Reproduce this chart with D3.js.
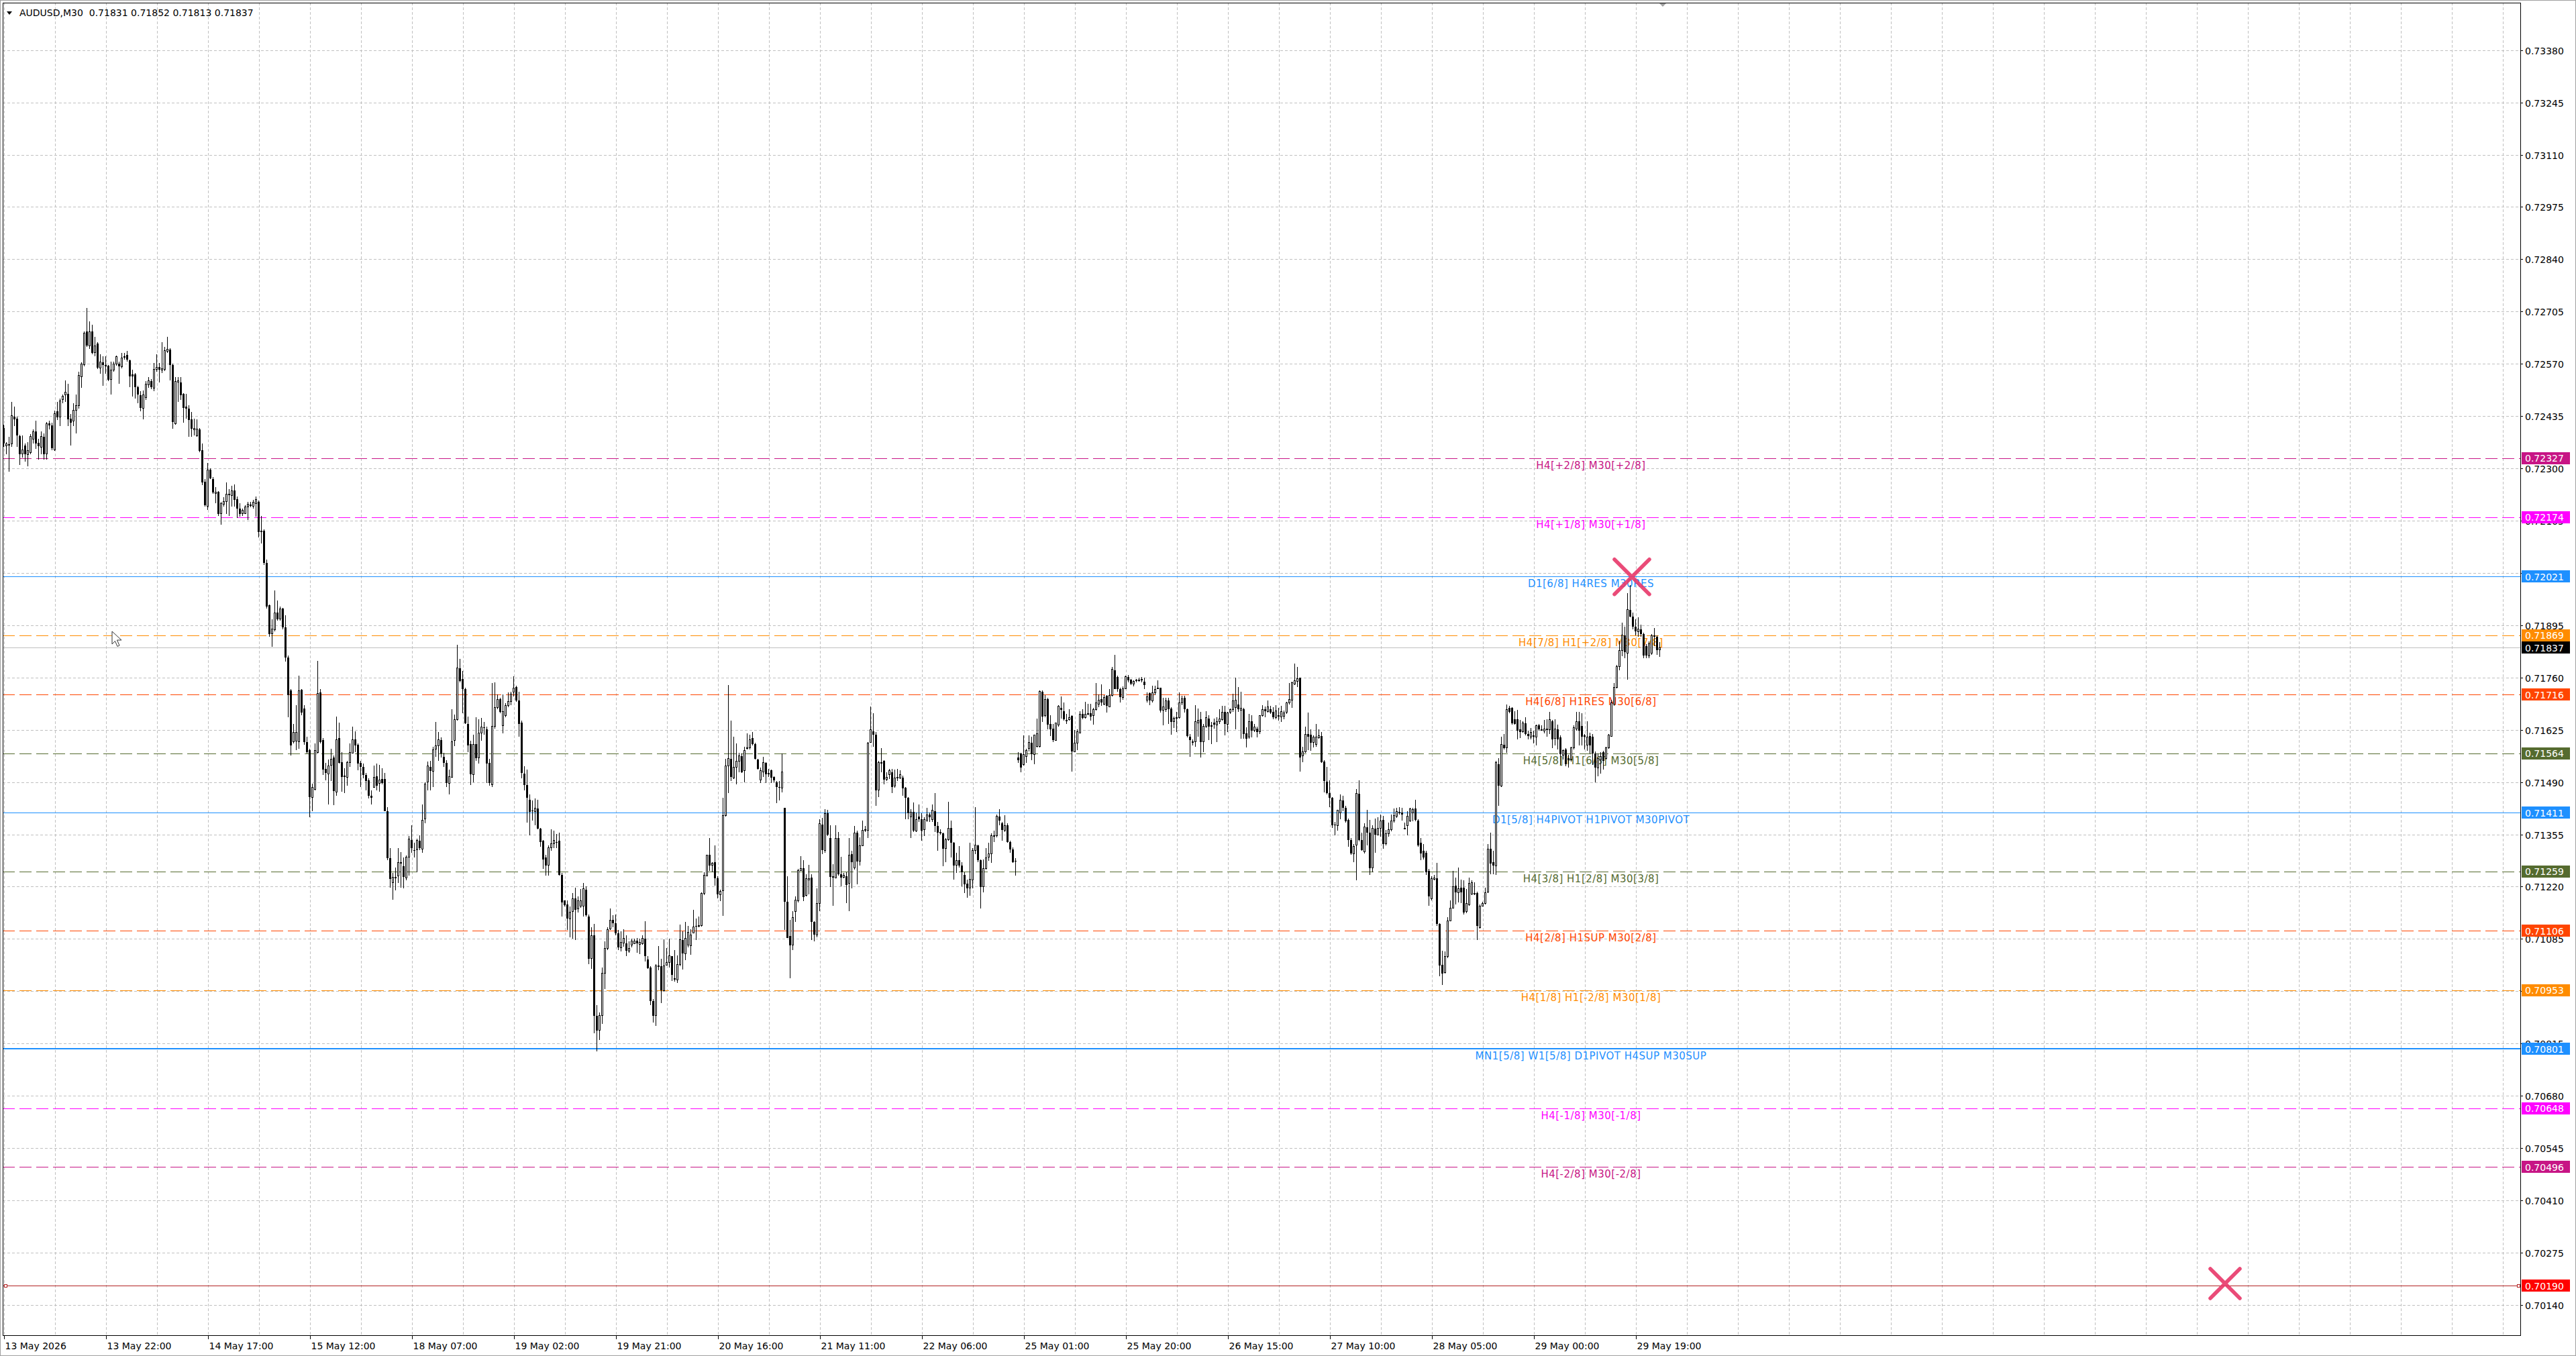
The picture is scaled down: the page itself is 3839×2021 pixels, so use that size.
<!DOCTYPE html>
<html>
<head>
<meta charset="utf-8">
<script src="https://cdn.jsdelivr.net/npm/d3@7"></script>
<style>
  body { margin: 0; background: #fff; overflow: hidden; }
  svg { display: block; }
  text { font-family: "DejaVu Sans", sans-serif; }
</style>
</head>
<body>
<div id="chart"></div>
<script>
// AUDUSD M30 bars, [open, high, low, close] in 1e-5 price units, one array per trading day
var may13 = [
[72404,72413,72355,72364],[72358,72368,72337,72364],[72361,72382,72291,72362],[72364,72472,72355,72436],
[72433,72459,72409,72427],[72429,72433,72355,72385],[72384,72386,72309,72337],[72337,72385,72328,72347],
[72359,72364,72318,72337],[72335,72368,72305,72346],[72341,72389,72337,72382],[72375,72400,72364,72395],
[72395,72423,72350,72364],[72366,72377,72323,72357],[72355,72395,72337,72382],[72382,72391,72323,72337],
[72337,72420,72323,72416],[72416,72423,72400,72411],[72411,72418,72347,72352],[72347,72450,72346,72442],
[72447,72472,72425,72432],[72432,72481,72409,72474],[72477,72490,72468,72486],[72490,72527,72472,72497],
[72492,72518,72409,72427],[72429,72441,72359,72418],[72423,72468,72409,72450],[72450,72490,72391,72463],
[72463,72549,72454,72540],[72537,72574,72508,72570],[72567,72653,72563,72649],[72653,72715,72613,72617],
[72617,72680,72608,72653],[72653,72671,72594,72599],[72599,72640,72590,72617],[72622,72626,72556,72560],
[72560,72594,72545,72574],[72574,72590,72513,72567],[72567,72590,72545,72563],[72565,72567,72525,72529],
[72529,72576,72490,72554],[72554,72576,72549,72570]];
var may14 = [
[72570,72592,72565,72588],[72570,72576,72518,72563],[72563,72599,72558,72585],[72587,72599,72581,72588],
[72593,72604,72576,72581],[72579,72581,72510,72537],[72542,72554,72486,72537],[72543,72547,72481,72509],
[72510,72513,72468,72490],[72489,72499,72447,72456],[72456,72501,72427,72490],[72483,72525,72477,72518],
[72515,72536,72508,72527],[72526,72531,72504,72510],[72508,72572,72499,72556],[72556,72594,72549,72561],
[72561,72572,72522,72554],[72554,72626,72547,72558],[72556,72613,72552,72604],[72603,72640,72599,72608],
[72606,72610,72527,72567],[72567,72570,72402,72420],[72415,72536,72413,72524],[72522,72536,72472,72526],
[72522,72536,72477,72489],[72492,72495,72418,72456],[72459,72492,72429,72454],[72454,72463,72382,72425],
[72427,72445,72382,72402],[72400,72429,72385,72403],[72384,72427,72382,72402],[72400,72404,72341,72346],
[72347,72364,72257,72264],[72266,72273,72201,72205],[72203,72314,72192,72296],[72296,72300,72273,72275],
[72273,72278,72235,72237],[72235,72251,72210,72239],[72239,72242,72178,72183],[72183,72214,72154,72210],
[72208,72226,72201,72214],[72214,72264,72183,72233],[72234,72246,72178,72230],[72230,72255,72201,72242],
[72243,72258,72201,72219],[72221,72228,72172,72196],[72196,72210,72175,72183],[72183,72196,72178,72192]];
var may15 = [
[72183,72205,72183,72201],[72201,72214,72166,72207],[72206,72214,72199,72206],[72203,72219,72196,72212],
[72210,72228,72175,72219],[72214,72217,72121,72136],[72136,72178,72106,72139],[72139,72142,72051,72056],
[72056,72065,71938,71943],[71947,71949,71866,71873],[71873,71911,71839,71886],[71884,71985,71880,71927],
[71927,71958,71907,71911],[71911,71943,71907,71938],[71938,71940,71884,71889],[71889,71920,71801,71812],
[71812,71816,71658,71714],[71726,71730,71558,71585],[71594,71640,71590,71619],[71596,71689,71572,71619],
[71594,71765,71576,71726],[71728,71730,71662,71669],[71680,71689,71587,71594],[71594,71608,71563,71567],
[71572,71576,71400,71451],[71450,71486,71414,71477],[71472,71590,71468,71572],[71567,71803,71563,71719],
[71721,71730,71590,71594],[71599,71604,71509,71522],[71524,71540,71495,71513],[71511,71549,71432,71531],
[71533,71576,71492,71549],[71554,71559,71431,71467],[71465,71660,71454,71599],[71603,71643,71538,71540],
[71542,71567,71465,71503],[71507,71525,71462,71503],[71503,71544,71480,71540],[71540,71589,71529,71567],
[71565,71633,71563,71600],[71600,71621,71568,71585],[71587,71589,71520,71537],[71540,71544,71478,71529],
[71529,71538,71499,71509],[71509,71514,71469,71492],[71494,71499,71448,71454],[71454,71469,71433,71449]];
var may18 = [
[71477,71533,71475,71503],[71505,71537,71469,71480],[71486,71535,71465,71495],[71498,71525,71484,71488],
[71498,71514,71415,71415],[71415,71426,71289,71294],[71294,71319,71218,71240],[71230,71255,71186,71245],
[71245,71270,71210,71245],[71248,71320,71229,71283],[71283,71310,71218,71283],[71272,71295,71215,71245],
[71242,71300,71236,71296],[71296,71350,71248,71343],[71340,71379,71308,71320],[71315,71334,71296,71313],
[71315,71343,71257,71340],[71338,71353,71315,71319],[71317,71433,71308,71392],[71395,71490,71383,71485],
[71490,71543,71469,71531],[71529,71544,71469,71518],[71518,71582,71477,71574],[71575,71645,71555,71583],
[71583,71619,71544,71600],[71599,71606,71553,71563],[71555,71565,71529,71540],[71540,71546,71477,71488],
[71486,71523,71458,71504],[71503,71679,71501,71594],[71597,71664,71583,71651],[71651,71844,71649,71784],
[71784,71808,71747,71751],[71756,71777,71668,71730],[71730,71733,71640,71642],[71640,71660,71567,71584],
[71588,71597,71483,71510],[71510,71612,71490,71588],[71588,71658,71544,71552],[71552,71653,71537,71617],
[71617,71655,71597,71633],[71631,71645,71612,71630],[71627,71633,71488,71537],[71539,71550,71480,71488],
[71484,71745,71478,71634],[71634,71747,71628,71683],[71683,71717,71678,71704],[71704,71708,71668,71672]];
var may19 = [
[71636,71717,71615,71672],[71662,71694,71658,71687],[71687,71721,71683,71698],[71698,71724,71688,71717],
[71722,71763,71711,71733],[71735,71739,71698,71700],[71700,71724,71608,71640],[71643,71648,71499,71514],
[71512,71531,71469,71483],[71483,71523,71386,71450],[71445,71458,71353,71413],[71417,71443,71390,71416],
[71414,71447,71379,71422],[71422,71445,71368,71370],[71370,71371,71323,71335],[71338,71341,71266,71290],
[71295,71302,71248,71275],[71275,71326,71248,71320],[71320,71368,71313,71330],[71330,71365,71320,71340],
[71336,71356,71319,71335],[71338,71360,71248,71250],[71250,71255,71143,71180],[71184,71185,71169,71173],
[71174,71184,71109,71137],[71137,71169,71090,71154],[71155,71203,71086,71188],[71190,71218,71082,71161],
[71163,71195,71154,71184],[71169,71214,71165,71184],[71169,71230,71143,71215],[71212,71220,71143,71146],
[71143,71148,71020,71034],[71034,71116,71007,71094],[71094,71124,70842,70887],[70887,70914,70794,70848],
[70850,70895,70824,70887],[70887,71011,70865,70996],[70996,71079,70955,71060],[71060,71116,71056,71109],
[71110,71163,71109,71133],[71135,71146,71116,71125],[71125,71148,71095,71100],[71100,71109,71056,71064],
[71062,71105,71052,71077],[71075,71110,71065,71086],[71073,71094,71041,71054],[71054,71079,71049,71061]];
var may20 = [
[71070,71086,71064,71080],[71073,71086,71071,71079],[71080,71088,71049,71073],[71071,71086,71045,71077],
[71073,71094,71070,71086],[71086,71130,71026,71040],[71032,71041,71007,71010],[71011,71015,70914,70925],
[70925,70929,70869,70887],[70887,71020,70861,71015],[71015,71067,71004,71015],[71014,71034,70920,70953],
[70951,71084,70948,71015],[71018,71061,71018,71025],[71024,71086,71012,71041],[71041,71041,70977,70992],
[70982,71056,70974,70982],[70980,71042,70972,71019],[71019,71122,71015,71083],[71083,71105,71006,71047],
[71047,71129,71030,71086],[71070,71119,71064,71102],[71067,71110,71044,71096],[71100,71161,71099,71116],
[71118,71137,71083,71117],[71119,71142,71116,71119],[71119,71206,71117,71203],[71202,71258,71199,71249],
[71248,71303,71247,71302],[71302,71345,71261,71274],[71275,71284,71258,71281],[71283,71326,71223,71241],
[71241,71247,71189,71200],[71200,71212,71183,71207],[71209,71449,71145,71403],[71403,71550,71401,71531],
[71531,71740,71462,71550],[71550,71648,71493,71504],[71501,71608,71498,71528],[71528,71590,71484,71544],
[71544,71565,71516,71557],[71557,71563,71514,71515],[71520,71581,71490,71572],[71576,71615,71574,71579],
[71578,71613,71574,71600],[71603,71619,71585,71588],[71588,71591,71548,71550],[71549,71550,71523,71524]];
var may21 = [
[71495,71527,71488,71520],[71517,71556,71504,71540],[71540,71542,71487,71511],[71513,71524,71504,71511],
[71520,71523,71487,71501],[71503,71505,71490,71494],[71490,71493,71435,71478],[71478,71493,71443,71475],
[71475,71563,71464,71517],[71423,71423,71108,71181],[71181,71247,71087,71088],[71092,71134,70984,71069],
[71070,71157,71057,71141],[71155,71194,71129,71185],[71183,71266,71180,71262],[71262,71299,71261,71267],
[71268,71289,71183,71193],[71197,71252,71194,71241],[71237,71276,71200,71241],[71243,71252,71082,71129],
[71129,71131,71079,71096],[71096,71216,71089,71177],[71177,71394,71157,71383],[71380,71397,71304,71314],
[71313,71420,71307,71409],[71409,71418,71351,71355],[71345,71378,71219,71245],[71247,71278,71171,71243],
[71243,71378,71241,71345],[71345,71362,71249,71252],[71252,71297,71220,71243],[71244,71255,71241,71250],
[71247,71258,71177,71225],[71229,71345,71157,71302],[71304,71313,71215,71283],[71268,71376,71264,71358],
[71359,71365,71226,71285],[71285,71348,71275,71326],[71326,71391,71325,71366],[71366,71377,71362,71367],
[71365,71594,71345,71591],[71592,71685,71591,71625],[71621,71667,71582,71613],[71613,71620,71429,71469],
[71469,71545,71452,71540],[71541,71577,71516,71541],[71544,71546,71484,71497],[71498,71516,71493,71503]];
var may22 = [
[71509,71524,71498,71520],[71516,71524,71461,71478],[71479,71523,71476,71501],[71500,71524,71493,71502],
[71501,71521,71498,71510],[71501,71507,71455,71474],[71475,71478,71394,71449],[71449,71452,71394,71409],
[71400,71420,71345,71413],[71413,71438,71362,71365],[71364,71412,71362,71394],[71401,71433,71388,71394],
[71394,71409,71339,71365],[71368,71400,71351,71394],[71391,71423,71388,71405],[71407,71412,71388,71400],
[71394,71432,71388,71417],[71414,71461,71361,71376],[71376,71388,71313,71359],[71362,71368,71354,71358],
[71358,71359,71273,71318],[71318,71345,71284,71342],[71341,71439,71339,71371],[71372,71390,71296,71333],
[71333,71336,71239,71275],[71275,71307,71255,71288],[71289,71324,71270,71275],[71275,71284,71220,71258],
[71251,71258,71203,71226],[71227,71238,71192,71216],[71216,71333,71197,71239],[71238,71320,71215,71314],
[71313,71426,71304,71328],[71326,71328,71284,71289],[71289,71290,71163,71219],[71220,71290,71206,71267],
[71267,71319,71264,71295],[71296,71333,71287,71304],[71304,71357,71281,71352],[71350,71365,71336,71351],
[71351,71406,71348,71401],[71401,71420,71378,71390],[71384,71388,71339,71366],[71366,71405,71362,71378],
[71378,71383,71333,71336],[71336,71339,71307,71316],[71316,71322,71281,71284],[71287,71293,71249,71286]];
var may25 = [
[71553,71568,71540,71546],[71563,71565,71516,71528],[71536,71611,71533,71561],[71556,71576,71540,71571],
[71576,71611,71569,71592],[71591,71608,71547,71562],[71562,71613,71536,71611],[71582,71654,71579,71615],
[71582,71727,71580,71724],[71724,71727,71646,71660],[71661,71715,71657,71704],[71704,71707,71627,71638],
[71640,71663,71609,71626],[71628,71640,71594,71599],[71598,71643,71597,71642],[71638,71688,71634,71686],
[71681,71711,71654,71677],[71673,71696,71649,71652],[71650,71666,71640,71650],[71651,71678,71649,71657],
[71661,71663,71517,71569],[71569,71625,71568,71590],[71590,71627,71573,71620],[71617,71673,71615,71666],
[71666,71679,71653,71656],[71657,71698,71654,71666],[71667,71692,71663,71667],[71667,71692,71649,71660],
[71661,71681,71638,71678],[71678,71746,71675,71694],[71692,71717,71683,71701],[71704,71742,71686,71695],
[71692,71715,71689,71709],[71712,71715,71669,71686],[71685,71731,71683,71714],[71714,71788,71711,71781],
[71779,71819,71730,71731],[71762,71764,71723,71731],[71731,71733,71696,71709],[71709,71737,71702,71731],
[71731,71764,71730,71763],[71762,71767,71747,71753],[71754,71756,71741,71744],[71744,71753,71737,71750],
[71752,71756,71747,71754],[71754,71759,71750,71754],[71753,71762,71747,71756],[71750,71759,71730,71741]];
var may26 = [
[71702,71721,71696,71711],[71719,71721,71688,71700],[71700,71738,71696,71721],[71721,71738,71715,71730],
[71733,71753,71730,71733],[71733,71733,71669,71675],[71675,71707,71637,71685],[71678,71708,71672,71700],
[71700,71708,71640,71678],[71680,71683,71613,71646],[71646,71659,71630,71654],[71657,71672,71620,71657],
[71656,71721,71654,71694],[71694,71713,71689,71705],[71707,71713,71669,71679],[71679,71680,71605,71609],
[71608,71614,71555,71599],[71594,71600,71585,71594],[71594,71689,71582,71646],[71642,71680,71608,71650],
[71653,71672,71553,71594],[71594,71640,71568,71634],[71634,71673,71630,71656],[71654,71663,71599,71634],
[71635,71646,71588,71635],[71643,71654,71628,71638],[71638,71657,71594,71646],[71647,71678,71640,71653],
[71652,71686,71649,71671],[71671,71686,71611,71640],[71640,71672,71620,71669],[71671,71680,71666,71677],
[71677,71718,71672,71700],[71683,71759,71627,71701],[71690,71735,71672,71679],[71676,71724,71602,71680],
[71679,71681,71602,71614],[71615,71631,71579,71602],[71607,71666,71602,71647],[71647,71663,71605,71623],
[71624,71640,71620,71632],[71628,71634,71605,71620],[71620,71663,71614,71661],[71661,71689,71660,71678],
[71678,71685,71657,71673],[71672,71700,71669,71685],[71678,71686,71666,71669],[71672,71683,71652,71657]];
var may27 = [
[71657,71689,71652,71673],[71663,71681,71649,71659],[71659,71686,71646,71672],[71660,71675,71652,71669],
[71671,71698,71666,71694],[71694,71746,71690,71704],[71702,71750,71681,71746],[71744,71796,71741,71752],
[71750,71788,71735,71757],[71759,71760,71517,71553],[71557,71582,71542,71569],[71569,71634,71566,71614],
[71614,71669,71573,71608],[71613,71626,71571,71592],[71592,71611,71579,71607],[71588,71640,71582,71607],
[71605,71626,71602,71609],[71609,71620,71539,71542],[71543,71546,71463,71492],[71491,71530,71458,71461],
[71461,71495,71426,71449],[71449,71452,71371,71379],[71381,71388,71353,71378],[71378,71417,71365,71417],
[71411,71458,71394,71443],[71443,71454,71414,71424],[71424,71429,71385,71389],[71392,71396,71323,71341],
[71341,71346,71303,71305],[71305,71330,71283,71324],[71327,71472,71237,71460],[71460,71494,71337,71341],
[71341,71359,71312,71314],[71310,71383,71305,71375],[71374,71418,71327,71359],[71359,71392,71250,71268],
[71268,71378,71257,71370],[71370,71396,71308,71354],[71354,71399,71352,71370],[71370,71407,71349,71390],
[71392,71402,71317,71330],[71330,71367,71327,71356],[71356,71385,71349,71367],[71367,71407,71363,71389],
[71390,71421,71385,71403],[71402,71424,71397,71414],[71412,71425,71407,71412],[71412,71424,71390,71407]];
var may28 = [
[71370,71385,71368,71370],[71378,71414,71352,71402],[71389,71424,71387,71421],[71410,71424,71389,71419],
[71421,71445,71389,71392],[71390,71394,71323,71327],[71334,71345,71288,71305],[71312,71330,71290,71296],
[71308,71312,71250,71257],[71261,71265,71171,71195],[71188,71246,71185,71241],[71239,71250,71237,71243],
[71241,71281,71119,71123],[71123,71126,70988,71017],[71018,71055,70967,70995],[70999,71053,70995,71040],
[71039,71141,71035,71132],[71132,71185,71130,71164],[71164,71261,71163,71220],[71222,71243,71174,71205],
[71205,71270,71179,71215],[71217,71239,71177,71206],[71217,71237,71148,71154],[71155,71214,71152,71177],
[71174,71243,71170,71228],[71201,71237,71198,71230],[71203,71232,71199,71203],[71203,71207,71083,71119],
[71115,71174,71112,71170],[71170,71181,71169,71177],[71177,71217,71174,71205],[71206,71330,71203,71317],
[71317,71359,71252,71279],[71283,71312,71252,71274],[71274,71545,71250,71540],[71536,71552,71429,71480],
[71480,71607,71477,71587],[71587,71614,71574,71578],[71578,71691,71565,71678],[71681,71687,71667,71671],
[71681,71684,71639,71642],[71652,71673,71638,71640],[71652,71676,71601,71622],[71627,71651,71603,71620],
[71620,71647,71618,71642],[71642,71658,71611,71614],[71614,71622,71601,71609],[71607,71629,71601,71618]];
var may29 = [
[71611,71622,71589,71607],[71606,71638,71585,71635],[71636,71640,71622,71627],[71625,71636,71622,71625],
[71622,71651,71616,71627],[71625,71652,71607,71627],[71625,71671,71614,71651],[71647,71651,71578,71600],
[71603,71652,71585,71627],[71627,71638,71574,71601],[71606,71611,71534,71562],[71560,71574,71549,71571],
[71574,71578,71531,71536],[71552,71560,71527,71547],[71549,71582,71543,71579],[71578,71636,71574,71630],
[71627,71671,71622,71647],[71647,71671,71585,71622],[71635,71667,71585,71607],[71611,71614,71574,71607],
[71585,71647,71571,71607],[71609,71618,71563,71585],[71607,71614,71534,71563],[71563,71569,71489,71527],
[71527,71563,71505,71550],[71547,71567,71512,71556],[71567,71571,71523,71545],[71550,71582,71549,71578],
[71578,71614,71576,71611],[71608,71702,71607,71694],[71691,71746,71687,71735],[71735,71793,71732,71789],
[71789,71855,71778,71829],[71829,71902,71815,71869],[71869,71891,71810,71826],[71822,71978,71754,71935],
[71935,71998,71916,71918],[71918,71928,71885,71891],[71891,71910,71868,71879],[71879,71916,71866,71885],
[71885,71897,71866,71872],[71872,71876,71810,71816],[71841,71847,71810,71816],[71816,71854,71810,71847],
[71822,71872,71819,71868],[71866,71888,71841,71868],[71866,71868,71819,71831],[71831,71852,71813,71837]];

var timeLabels = ["13 May 2026","13 May 22:00","14 May 17:00","15 May 12:00","18 May 07:00","19 May 02:00",
  "19 May 21:00","20 May 16:00","21 May 11:00","22 May 06:00","25 May 01:00","25 May 20:00",
  "26 May 15:00","27 May 10:00","28 May 05:00","29 May 00:00","29 May 19:00"];
var priceTicks = [0.73380,0.73245,0.73110,0.72975,0.72840,0.72705,0.72570,0.72435,0.72300,0.72165,
  0.72030,0.71895,0.71760,0.71625,0.71490,0.71355,0.71220,0.71085,0.70950,0.70815,0.70680,0.70545,
  0.70410,0.70275,0.70140];

var levelPrices = [0.72327,0.72174,0.72021,0.71869,0.71716,0.71564,0.71411,0.71259,0.71106,0.70953,0.70801,0.70648,0.70496];
var levelNames = ["H4[+2/8] M30[+2/8]","H4[+1/8] M30[+1/8]","D1[6/8] H4RES M30RES","H4[7/8] H1[+2/8] M30[7/8]",
  "H4[6/8] H1RES M30[6/8]","H4[5/8] H1[6/8] M30[5/8]","D1[5/8] H4PIVOT H1PIVOT M30PIVOT","H4[3/8] H1[2/8] M30[3/8]",
  "H4[2/8] H1SUP M30[2/8]","H4[1/8] H1[-2/8] M30[1/8]","MN1[5/8] W1[5/8] D1PIVOT H4SUP M30SUP","H4[-1/8] M30[-1/8]","H4[-2/8] M30[-2/8]"];
var levelKinds = ["ext","one","pivot","seven","six","five","pivot","five","six","seven","base","one","ext"];

var symbol = "AUDUSD,M30";
var lastBar = [0.71831, 0.71852, 0.71813, 0.71837];
var alertPrice = 0.70190;
var topMarkPrice = 0.72020;

// styles
var kindStyle = {
  ext:   {color: "#c71585", dash: "18,7", width: 1},
  one:   {color: "#ff00ff", dash: "18,7", width: 1},
  pivot: {color: "#1e90ff", dash: null, width: 1},
  base:  {color: "#1e90ff", dash: null, width: 2},
  seven: {color: "#ff8c00", dash: "18,7", width: 1},
  six:   {color: "#ff4500", dash: "18,7", width: 1},
  five:  {color: "#556b2f", dash: "18,7", width: 1}
};

var W = 3839, H = 2021;
var plot = {left: 4, top: 4, right: 3756, bottom: 1990};

var bars = [].concat(may13, may14, may15, may18, may19, may20, may21, may22, may25, may26, may27, may28, may29);

var x = d3.scaleLinear().domain([0, 1]).range([5.5, 9.5]);
var y = d3.scaleLinear().domain([0.70190, 0.73380]).range([1916, 74.7]);
var px = function(v) { return y(v / 1e5); };

var svg = d3.select("#chart").append("svg")
  .attr("width", W).attr("height", H)
  .attr("viewBox", "0 0 " + W + " " + H);

svg.append("rect").attr("width", W).attr("height", H).attr("fill", "#fff");
// window border
svg.append("rect").attr("x", 0.5).attr("y", 0.5).attr("width", W - 1).attr("height", H - 1)
  .attr("fill", "none").attr("stroke", "#a0a0a0");

var grid = svg.append("g").attr("shape-rendering", "crispEdges");
var maxIndex = Math.floor((plot.right - 6) / 4);
var vgrid = d3.range(0, maxIndex, 19);
grid.selectAll("line.v").data(vgrid).enter().append("line")
  .attr("x1", function(d) { return Math.round(x(d)) + 0.5; })
  .attr("x2", function(d) { return Math.round(x(d)) + 0.5; })
  .attr("y1", plot.top).attr("y2", plot.bottom)
  .attr("stroke", "#c0c0c0").attr("stroke-dasharray", "4,3");
grid.selectAll("line.h").data(priceTicks).enter().append("line")
  .attr("x1", plot.left).attr("x2", plot.right)
  .attr("y1", function(d) { return Math.round(y(d)) + 0.5; })
  .attr("y2", function(d) { return Math.round(y(d)) + 0.5; })
  .attr("stroke", "#c0c0c0").attr("stroke-dasharray", "4,3");

// level lines
var levels = svg.append("g").attr("shape-rendering", "crispEdges");
levelPrices.forEach(function(p, i) {
  var st = kindStyle[levelKinds[i]];
  var yy = Math.round(y(p)) + (st.width === 1 ? 0.5 : 0);
  levels.append("line")
    .attr("x1", plot.left).attr("x2", plot.right).attr("y1", yy).attr("y2", yy)
    .attr("stroke", st.color).attr("stroke-width", st.width)
    .attr("stroke-dasharray", st.dash);
});
// current price line
levels.append("line")
  .attr("x1", plot.left).attr("x2", plot.right)
  .attr("y1", Math.round(y(lastBar[3])) + 0.5).attr("y2", Math.round(y(lastBar[3])) + 0.5)
  .attr("stroke", "#c0c0c0");
// alert line
var ay = Math.round(y(alertPrice)) + 0.5;
levels.append("line")
  .attr("x1", plot.left).attr("x2", plot.right).attr("y1", ay).attr("y2", ay)
  .attr("stroke", "#b22222").attr("stroke-width", 1.5);
[6, plot.right - 5].forEach(function(xx) {
  levels.append("rect").attr("x", xx).attr("y", ay - 2.5).attr("width", 4).attr("height", 4)
    .attr("fill", "#fff").attr("stroke", "#b22222");
});

// level labels
var labels = svg.append("g");
levelPrices.forEach(function(p, i) {
  var st = kindStyle[levelKinds[i]];
  labels.append("text")
    .attr("x", 2371).attr("y", y(p) + 16)
    .attr("text-anchor", "middle")
    .attr("font-size", 15).attr("letter-spacing", 0.5)
    .attr("fill", st.color)
    .text(levelNames[i]);
});

// candles
var candles = svg.append("g").attr("shape-rendering", "crispEdges");
candles.selectAll("line").data(bars).enter().append("line")
  .attr("x1", function(d, i) { return x(i); })
  .attr("x2", function(d, i) { return x(i); })
  .attr("y1", function(d) { return px(d[1]); })
  .attr("y2", function(d) { return px(d[2]); })
  .attr("stroke", "#000");
candles.selectAll("rect").data(bars).enter().append("rect")
  .attr("x", function(d, i) { return d[3] >= d[0] ? x(i) - 1 : x(i) - 1.5; })
  .attr("width", function(d) { return d[3] >= d[0] ? 2 : 3; })
  .attr("y", function(d) { return px(Math.max(d[0], d[3])); })
  .attr("height", function(d) { return Math.max(1, px(Math.min(d[0], d[3])) - px(Math.max(d[0], d[3]))); })
  .attr("fill", function(d) { return d[3] >= d[0] ? "#fff" : "#000"; })
  .attr("stroke", function(d) { return d[3] >= d[0] ? "#000" : "none"; });

// cross marks
function cross(cx, cy, r) {
  var g = svg.append("g").attr("stroke", "#e8386a").attr("stroke-width", 5.5)
    .attr("stroke-linecap", "round").attr("opacity", 0.9);
  g.append("line").attr("x1", cx - r).attr("y1", cy - r).attr("x2", cx + r).attr("y2", cy + r);
  g.append("line").attr("x1", cx - r).attr("y1", cy + r).attr("x2", cx + r).attr("y2", cy - r);
}
cross(2432, y(topMarkPrice), 26);
cross(3316, y(alertPrice) - 3, 22);

// mouse cursor
svg.append("path")
  .attr("d", "M167,941 L167,960 L171.5,955.5 L175,963.5 L178,962 L174.5,954 L181,954 Z")
  .attr("fill", "#fff").attr("stroke", "#333").attr("stroke-width", 1);

// chart shift marker
svg.append("path").attr("d", "M2472,4 L2484,4 L2478,10 Z").attr("fill", "#a0a0a0");

// frame
svg.append("rect")
  .attr("x", plot.left + 0.5).attr("y", plot.top + 0.5)
  .attr("width", plot.right - plot.left).attr("height", plot.bottom - plot.top)
  .attr("fill", "none").attr("stroke", "#000").attr("shape-rendering", "crispEdges");

// y axis
var yAxisG = svg.append("g");
priceTicks.forEach(function(p) {
  var yy = Math.round(y(p)) + 0.5;
  yAxisG.append("line").attr("x1", plot.right).attr("x2", plot.right + 4)
    .attr("y1", yy).attr("y2", yy).attr("stroke", "#000").attr("shape-rendering", "crispEdges");
  yAxisG.append("text").attr("x", 3763).attr("y", yy)
    .attr("dominant-baseline", "central").attr("font-size", 14).attr("fill", "#000")
    .text(p.toFixed(5));
});

// price tags
var fmt = d3.format(".5f");
function tag(p, bg) {
  var yy = y(p);
  yAxisG.append("rect").attr("x", plot.right + 2).attr("y", Math.round(yy) - 9)
    .attr("width", 72).attr("height", 18).attr("fill", bg);
  yAxisG.append("text").attr("x", 3763).attr("y", yy + 0.5)
    .attr("dominant-baseline", "central").attr("font-size", 14).attr("fill", "#fff")
    .text(fmt(p));
}
levelPrices.forEach(function(p, i) { tag(p, kindStyle[levelKinds[i]].color); });
tag(lastBar[3], "#000");
tag(alertPrice, "#ff0000");

// x axis
var xAxisG = svg.append("g");
timeLabels.forEach(function(t, k) {
  var xx = Math.round(x(k * 38)) + 0.5;
  xAxisG.append("line").attr("x1", xx).attr("x2", xx).attr("y1", plot.bottom).attr("y2", plot.bottom + 6)
    .attr("stroke", "#000").attr("shape-rendering", "crispEdges");
  xAxisG.append("text").attr("x", xx + 1).attr("y", 2011)
    .attr("font-size", 14).attr("fill", "#000").text(t);
});

// title
svg.append("path").attr("d", "M10,17 L18,17 L14,22 Z").attr("fill", "#000");
svg.append("text").attr("x", 29).attr("y", 24).attr("font-size", 14).attr("fill", "#000")
  .style("white-space", "pre")
  .text(symbol + "  " + lastBar.map(function(v) { return v.toFixed(5); }).join(" "));
</script>
</body>
</html>
